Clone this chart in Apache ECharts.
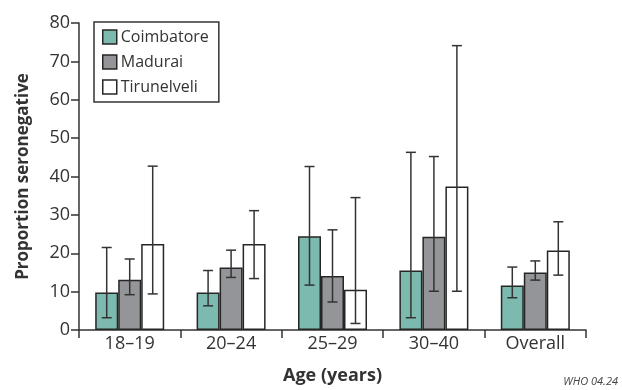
<!DOCTYPE html>
<html>
<head>
<meta charset="utf-8">
<script src="https://cdn.jsdelivr.net/npm/echarts@6/dist/echarts.min.js"></script>
<style>
html,body{margin:0;padding:0;background:#fff;}
#chart{width:622px;height:390px;}
</style>
</head>
<body>
<div id="chart"></div>
<script>
const categories = ['18\u201319', '20\u201324', '25\u201329', '30\u201340', 'Overall'];
const seriesNames = ['Coimbatore', 'Madurai', 'Tirunelveli'];
const coimbatore = [9.8, 9.8, 24.4, 15.5, 11.6];
const coimbatoreLow = [3.2, 6.3, 11.7, 3.2, 8.4];
const coimbatoreHigh = [21.5, 15.5, 42.6, 46.3, 16.4];
const madurai = [13.1, 16.3, 14.1, 24.3, 15.0];
const maduraiLow = [9.2, 13.7, 7.3, 10.1, 13.0];
const maduraiHigh = [18.5, 20.8, 26.1, 45.2, 18.0];
const tirunelveli = [22.4, 22.4, 10.5, 37.4, 20.7];
const tirunelveliLow = [9.4, 13.4, 1.7, 10.1, 14.3];
const tirunelveliHigh = [42.7, 31.1, 34.5, 74.1, 28.2];
const yTicks = [0, 10, 20, 30, 40, 50, 60, 70, 80];

const FONT = '"Open Sans", "Noto Sans", sans-serif';
const colors = ['#7cb9af', '#949599', '#ffffff'];
const BAR_W = 23;
const values = [coimbatore, madurai, tirunelveli];
const lows = [coimbatoreLow, maduraiLow, tirunelveliLow];
const highs = [coimbatoreHigh, maduraiHigh, tirunelveliHigh];

const chart = echarts.init(document.getElementById('chart'), null, {renderer: 'canvas'});

const barSeries = seriesNames.map((name, i) => ({
  name: name,
  type: 'bar',
  data: values[i],
  barWidth: BAR_W,
  barGap: '0%',
  itemStyle: {color: colors[i], borderColor: '#262626', borderWidth: 1.5},
  emphasis: {disabled: true},
  z: 2
}));

const errSeries = seriesNames.map((name, i) => ({
  name: name + ' CI',
  type: 'custom',
  data: categories.map((c, k) => [k, lows[i][k], highs[i][k]]),
  encode: {x: 0, y: [1, 2]},
  z: 5,
  silent: true,
  renderItem: function (params, api) {
    const offset = (i - 1) * BAR_W;
    const lo = api.coord([api.value(0), api.value(1)]);
    const hi = api.coord([api.value(0), api.value(2)]);
    const x = lo[0] + offset;
    const cap = 5;
    const style = {stroke: '#333', lineWidth: 1.5};
    return {
      type: 'group',
      children: [
        {type: 'line', shape: {x1: x, y1: lo[1], x2: x, y2: hi[1]}, style: style},
        {type: 'line', shape: {x1: x - cap, y1: lo[1], x2: x + cap, y2: lo[1]}, style: style},
        {type: 'line', shape: {x1: x - cap, y1: hi[1], x2: x + cap, y2: hi[1]}, style: style}
      ]
    };
  }
}));

chart.setOption({
  animation: false,
  backgroundColor: '#fff',
  grid: {left: 79, right: 36, top: 23, bottom: 57, containLabel: false},
  legend: {
    orient: 'vertical',
    left: 94,
    top: 22,
    padding: [7, 10, 7, 8],
    backgroundColor: '#fff',
    borderColor: '#333',
    borderWidth: 1.5,
    borderRadius: 0,
    itemWidth: 14,
    itemHeight: 14,
    itemGap: 9,
    icon: 'rect',
    selectedMode: false,
    textStyle: {fontFamily: FONT, fontSize: 16, color: '#333', lineHeight: 16, padding: [0, 0, 0, -1]},
    data: seriesNames.map((n, i) => ({name: n, itemStyle: {color: colors[i], borderColor: '#262626', borderWidth: 1.5}}))
  },
  xAxis: {
    type: 'category',
    data: categories,
    name: 'Age (years)',
    nameLocation: 'middle',
    nameGap: 37,
    nameTextStyle: {fontFamily: FONT, fontSize: 18, fontWeight: 'bold', color: '#333'},
    axisLine: {lineStyle: {color: '#333', width: 1.5}},
    axisTick: {show: true, interval: 0, length: 8, lineStyle: {color: '#333', width: 1.5}},
    axisLabel: {fontFamily: FONT, fontSize: 18, color: '#333', margin: 5, interval: 0},
    splitLine: {show: false}
  },
  yAxis: {
    type: 'value',
    min: yTicks[0],
    max: yTicks[yTicks.length - 1],
    interval: 10,
    name: 'Proportion seronegative',
    nameLocation: 'middle',
    nameGap: 47,
    nameRotate: 90,
    nameTextStyle: {fontFamily: FONT, fontSize: 17, fontWeight: 'bold', color: '#333'},
    axisLine: {show: true, lineStyle: {color: '#333', width: 1.5}},
    axisTick: {show: true, length: 8, lineStyle: {color: '#333', width: 1.5}},
    axisLabel: {fontFamily: FONT, fontSize: 18, color: '#333', margin: 9},
    splitLine: {show: false}
  },
  graphic: [{
    type: 'text',
    right: 4,
    top: 376,
    style: {text: 'WHO 04.24', fontFamily: FONT, fontSize: 11, fontStyle: 'italic', fill: '#444'}
  }],
  series: barSeries.concat(errSeries)
});
</script>
</body>
</html>
